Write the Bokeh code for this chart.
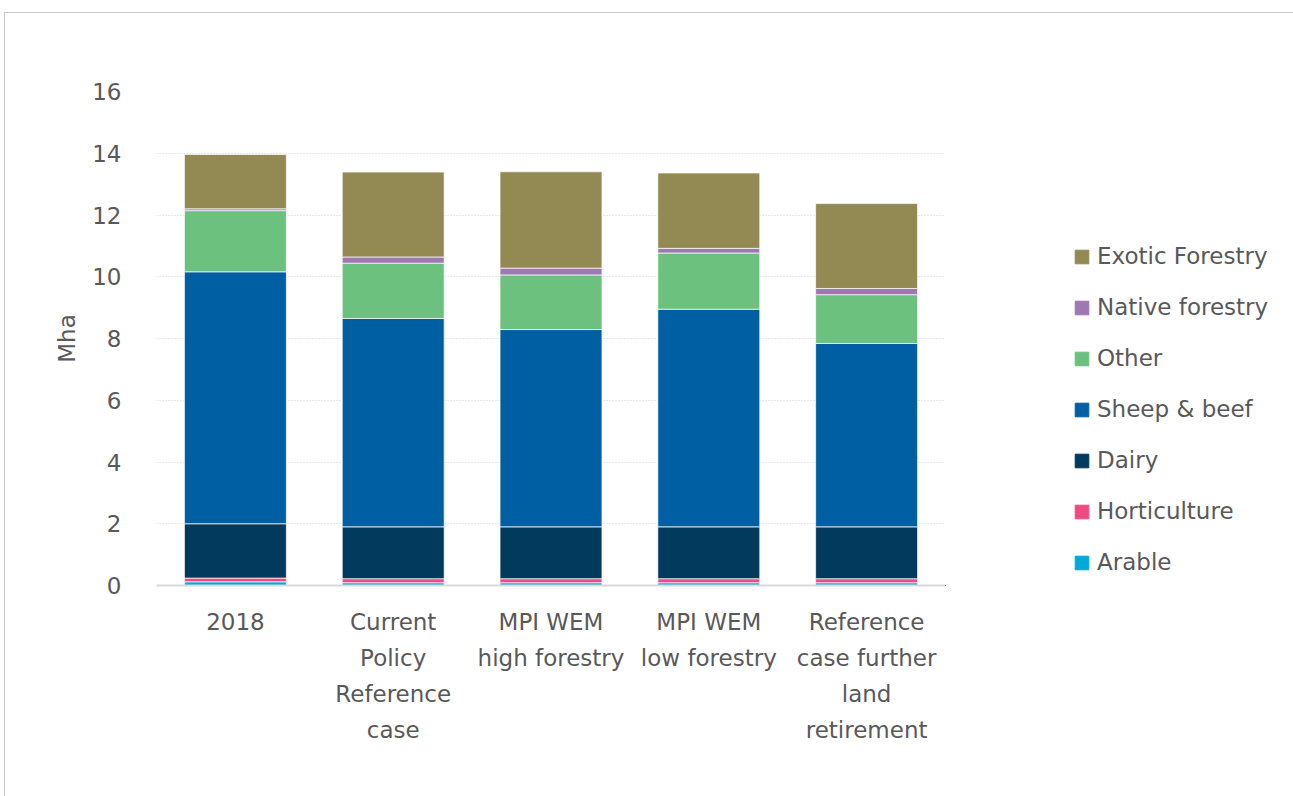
from bokeh.plotting import figure
from bokeh.layouts import row
from bokeh.models import ColumnDataSource, Legend, LegendItem, SingleIntervalTicker
from bokeh.embed import file_html
from bokeh.resources import INLINE

scenarios = ["2018", "Current\nPolicy\nReference\ncase", "MPI WEM\nhigh forestry",
             "MPI WEM\nlow forestry", "Reference\ncase further\nland\nretirement"]
series = ["Arable", "Horticulture", "Dairy", "Sheep & beef", "Other",
          "Native forestry", "Exotic Forestry"]
arable = [0.12, 0.09, 0.09, 0.09, 0.09]
horticulture = [0.12, 0.13, 0.13, 0.13, 0.13]
dairy = [1.76, 1.68, 1.68, 1.68, 1.68]
sheep_beef = [8.16, 6.75, 6.39, 7.05, 5.94]
other = [1.98, 1.79, 1.77, 1.82, 1.58]
native_forestry = [0.06, 0.20, 0.22, 0.15, 0.20]
exotic_forestry = [1.76, 2.75, 3.12, 2.44, 2.75]
colors = ["#00A9D6", "#EE4B82", "#003A5D", "#005FA3", "#6BC17D", "#9E77B3", "#938953"]

FONT = "DejaVu Sans"
GREY = "#595959"
FS = "23px"

src = ColumnDataSource(dict(x=scenarios, **{
    "Arable": arable, "Horticulture": horticulture, "Dairy": dairy,
    "Sheep & beef": sheep_beef, "Other": other,
    "Native forestry": native_forestry, "Exotic Forestry": exotic_forestry}))

# main figure: page x 4..944, y 12..796; frame x 155..944, y 90..584
p = figure(x_range=scenarios, y_range=(0, 16), width=940, height=784,
           output_backend="svg", toolbar_location=None,
           min_border_left=151, min_border_right=0, min_border_top=78,
           min_border_bottom=212)
p.outline_line_color = None

p.vbar_stack(series, x="x", width=0.646, source=src, color=colors,
             line_color="white", line_alpha=0.7, line_width=1)

p.xgrid.grid_line_color = None
p.ygrid.grid_line_color = "#d0d0d0"
p.ygrid.grid_line_dash = "1 2"
p.ygrid.grid_line_width = 1

p.yaxis.ticker = SingleIntervalTicker(interval=2)
p.yaxis.axis_line_color = None
p.yaxis.major_tick_line_color = None
p.yaxis.minor_tick_line_color = None
p.yaxis.major_label_text_font = FONT
p.yaxis.major_label_text_font_size = FS
p.yaxis.major_label_text_color = GREY
p.yaxis.major_label_standoff = 29
p.yaxis.axis_label = "Mha"
p.yaxis.axis_label_text_font = FONT
p.yaxis.axis_label_text_font_size = FS
p.yaxis.axis_label_text_font_style = "normal"
p.yaxis.axis_label_text_color = GREY
p.yaxis.axis_label_standoff = 9

p.xaxis.axis_line_color = "#d9d9d9"
p.xaxis.axis_line_width = 2
p.xaxis.major_tick_line_color = None
p.xaxis.minor_tick_line_color = None
p.xaxis.major_label_text_font = FONT
p.xaxis.major_label_text_font_size = FS
p.xaxis.major_label_text_color = GREY
p.xaxis.major_label_standoff = 17
p.xaxis.major_label_text_line_height = 1.385

# legend panel: page x 944..1293
q = figure(width=349, height=784, output_backend="svg", toolbar_location=None,
           min_border=0, x_axis_location=None, y_axis_location=None,
           x_range=(0, 1), y_range=(0, 1))
q.outline_line_color = None
q.grid.visible = False
# swatch renderers kept outside the visible range; they only feed the legend
swatch = ColumnDataSource(dict(x=[-10.0], top=[-10.0]))
dummies = [q.vbar(x="x", top="top", width=0.1, source=swatch, color=c) for c in colors]

items = [LegendItem(label=s, renderers=[r]) for s, r in zip(series, dummies)][::-1]
legend = Legend(items=items, location=(128, 10), orientation="vertical",
                glyph_width=17, glyph_height=17, label_standoff=7, spacing=25,
                label_text_font=FONT, label_text_font_size=FS,
                label_text_color=GREY, border_line_color=None,
                background_fill_alpha=0, padding=0, margin=0)
q.add_layout(legend, "center")

layout = row(p, q, spacing=0)
layout.styles = {"border-top": "1px solid #c8c8c8", "border-left": "1px solid #c8c8c8",
                 "margin-left": "4px", "margin-top": "12px"}

open("out.html", "w").write(file_html(layout, INLINE))
